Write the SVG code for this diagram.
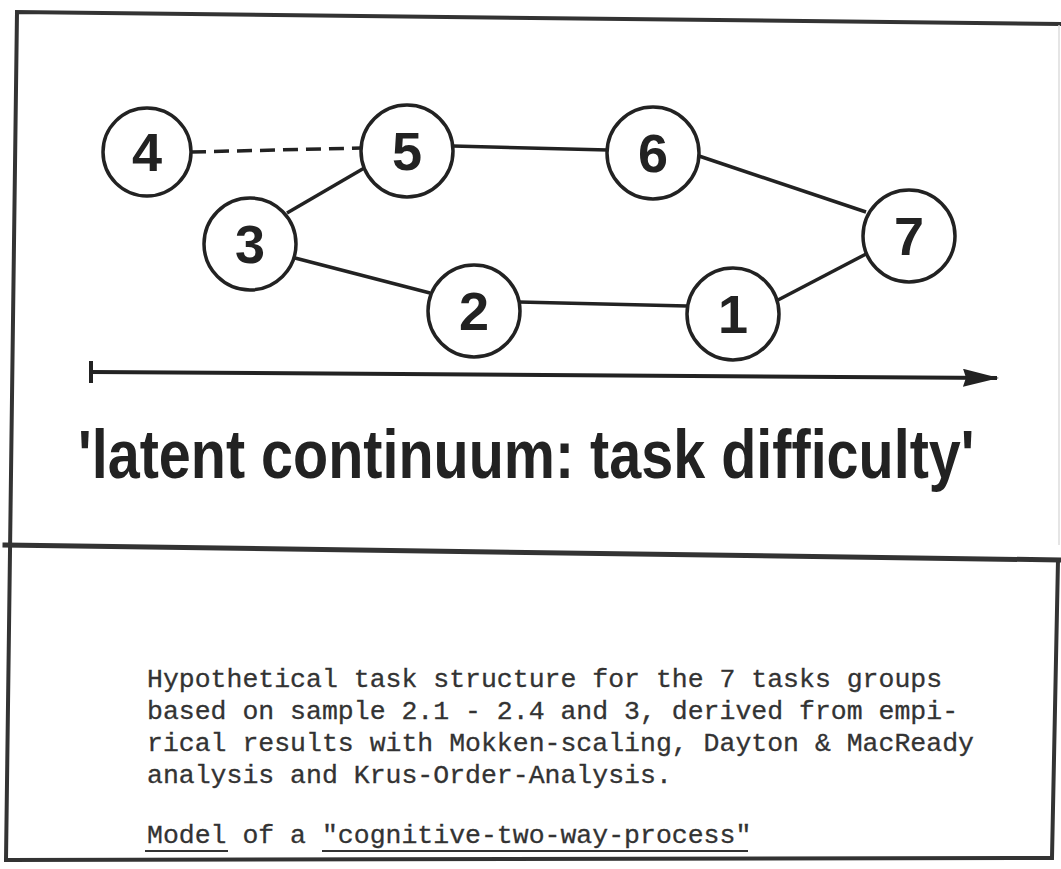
<svg xmlns="http://www.w3.org/2000/svg" width="1061" height="869" viewBox="0 0 1061 869">
<style>
.frame{stroke:#333;fill:none;stroke-linecap:square}
.node circle{fill:#fff;stroke:#222;stroke-width:3.5}
.node text{font-family:"Liberation Sans",Arial,sans-serif;font-weight:bold;font-size:54px;fill:#222;text-anchor:middle}
.edge{stroke:#222;stroke-width:3.5;fill:none}
.dash{stroke-dasharray:15 8}
.mono{font-family:"Liberation Mono","Courier New",monospace;font-size:26.5px;fill:#333;stroke:#333;stroke-width:0.3}
</style>
<defs>
<marker id="ah" viewBox="0 0 36 18" refX="34" refY="9" markerWidth="36" markerHeight="18" markerUnits="userSpaceOnUse" orient="auto">
<path d="M0,0 L36,9 L0,18 L3,9 Z" fill="#222"/>
</marker>
</defs>
<rect width="1061" height="869" fill="#fff"/>
<g id="frame">
<path class="frame" d="M1061,24 L17,12 L6,860 L1052,858 L1058,560" stroke-width="4"/>
<path class="frame" d="M5,545 L1061,560" stroke-width="5"/>
<path d="M1059,25 L1059,545" stroke="#ddd" stroke-width="1.5" fill="none"/>
</g>
<g id="connectors">
<line class="edge dash" x1="191" y1="152" x2="362" y2="148"/>
<line class="edge" x1="453" y1="146" x2="608" y2="150"/>
<line class="edge" x1="287" y1="213" x2="366" y2="167"/>
<line class="edge" x1="295" y1="258" x2="430" y2="293"/>
<line class="edge" x1="519" y1="302" x2="687" y2="306"/>
<line class="edge" x1="699" y1="156" x2="866" y2="212"/>
<line class="edge" x1="778" y1="300" x2="868" y2="253"/>
</g>
<g id="axis">
<line x1="91" y1="372" x2="997" y2="378" stroke="#222" stroke-width="4" marker-end="url(#ah)"/>
<line x1="91" y1="361" x2="91" y2="383" stroke="#222" stroke-width="4"/>
</g>
<g id="node4" class="node"><circle cx="147" cy="152" r="44"/><text x="147" y="171">4</text></g>
<g id="node5" class="node"><circle cx="407" cy="151" r="46"/><text x="407" y="170">5</text></g>
<g id="node6" class="node"><circle cx="653" cy="153" r="46"/><text x="653" y="172">6</text></g>
<g id="node7" class="node"><circle cx="909" cy="236" r="46"/><text x="909" y="255">7</text></g>
<g id="node3" class="node"><circle cx="250" cy="244" r="46"/><text x="250" y="263">3</text></g>
<g id="node2" class="node"><circle cx="474" cy="311" r="46"/><text x="474" y="330">2</text></g>
<g id="node1" class="node"><circle cx="733" cy="314" r="46"/><text x="733" y="333">1</text></g>
<text id="title" transform="translate(78,478) scale(0.846,1)" x="0" y="0" font-family="'Liberation Sans',Arial,sans-serif" font-weight="bold" font-size="68" fill="#222" style="font-variant-ligatures:none">'latent continuum: task difficulty'</text>
<g id="caption" class="mono">
<text x="147" y="687">Hypothetical task structure for the 7 tasks groups</text>
<text x="147" y="719">based on sample 2.1 - 2.4 and 3, derived from empi-</text>
<text x="147" y="751">rical results with Mokken-scaling, Dayton &amp; MacReady</text>
<text x="147" y="783">analysis and Krus-Order-Analysis.</text>
<text x="147" y="843">Model of a "cognitive-two-way-process"</text>
<line x1="145" y1="851" x2="228" y2="851" stroke="#333" stroke-width="2"/>
<line x1="322" y1="851" x2="748" y2="851" stroke="#333" stroke-width="2"/>
</g>
</svg>
